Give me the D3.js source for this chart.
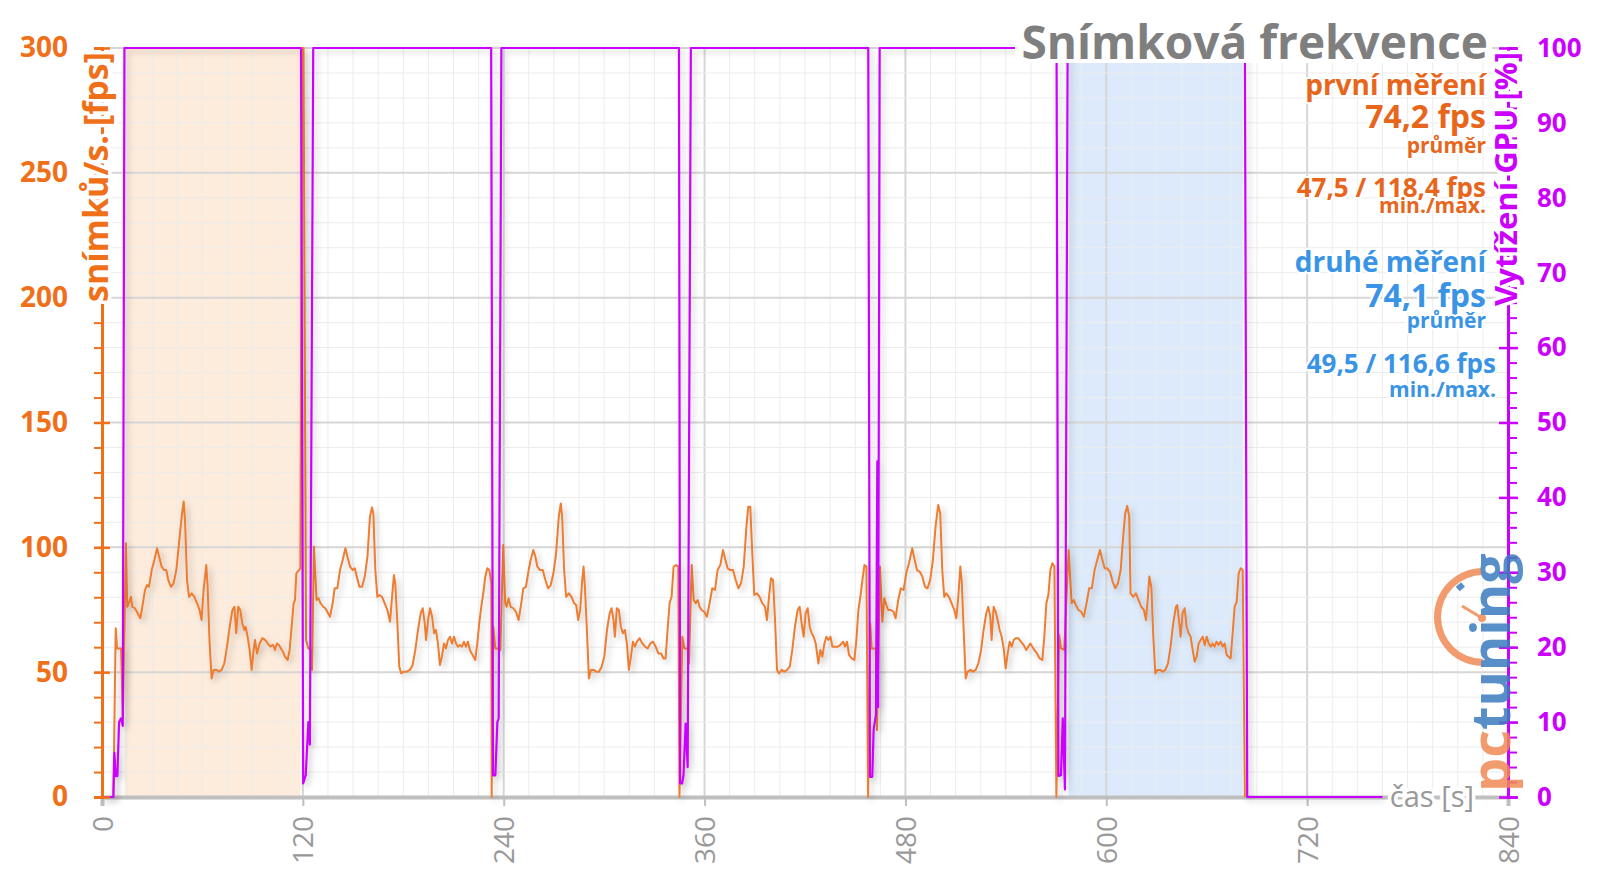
<!DOCTYPE html>
<html><head><meta charset="utf-8">
<script src="https://cdn.jsdelivr.net/npm/d3@7"></script>
<style>
body{margin:0;background:#fff}
svg{display:block}
text{font-family:"Open Sans","Noto Sans",sans-serif}
</style>
</head><body>
<svg id="c" width="1600" height="885"></svg>
<script>
// ---------- data ----------
const xTicks = [0,120,240,360,480,600,720,840];
const fpsTicks = [0,50,100,150,200,250,300];
const gpuTicks = [0,10,20,30,40,50,60,70,80,90,100];
const shadeFirst = [13.5,118.5];
const shadeSecond = [577.5,681.5];

const fpsStart = [[0,0],[6.8,0],[8.2,67.6],[9.0,59.5],[11.4,59.5],[12.5,31.5]];
const fpsRun1 = [[14.3,101.6],[15.1,76.2],[16.3,78.2],[17.3,80.2],[18.1,76.2],[19.7,75.6],[21.3,73.6],[22.9,71.6],[24.1,76.2],[25.7,82.9],[26.9,84.9],[28.1,84.2],[29.7,90.9],[31.3,94.9],[32.9,99.6],[34.1,96.3],[35.6,92.3],[37.2,90.9],[38.4,90.9],[39.6,86.9],[41.2,84.2],[42.8,85.6],[44.4,90.9],[46.0,101.6],[47.6,112.3],[48.8,118.4],[49.6,110.9],[50.8,86.9],[52.0,80.2],[53.6,81.6],[55.2,80.2],[56.8,77.6],[58.3,74.9],[59.5,70.9],[60.7,82.9],[62.3,92.9],[63.1,84.2],[64.3,61.5],[65.5,47.5],[66.7,50.9],[68.3,50.9],[69.9,50.2],[71.5,50.9],[73.1,53.5],[74.7,60.2],[76.3,68.2],[77.9,74.9],[79.1,76.2],[80.2,65.6],[81.4,76.2],[82.6,74.9],[83.8,69.6],[85.0,66.9],[85.8,68.2],[87.0,64.2],[88.2,58.9],[89.4,50.9],[90.6,58.9],[91.4,62.9],[92.6,57.5],[94.2,61.5],[95.8,63.6],[97.4,62.9],[99.0,61.5],[100.6,60.2],[102.2,60.9],[103.3,58.9],[104.5,61.5],[105.7,60.9],[106.9,59.5],[108.1,58.2],[109.3,56.2],[110.9,54.9],[112.1,58.9],[113.3,68.2],[114.5,77.6],[115.3,78.9],[116.1,89.6],[117.7,90.9],[118.5,91.6]];
const fpsTrans1 = [[119.6,300],[120.4,300],[121.9,62.9],[123.3,59.5],[124.7,58.9],[125.5,50.9]];
const fpsRun2 = [[126.6,100.3],[128.2,78.9],[129.4,79.6],[130.6,77.6],[132.2,76.2],[133.4,75.6],[134.6,74.2],[136.2,72.2],[137.8,77.6],[139.0,83.6],[140.6,83.6],[142.2,90.9],[143.8,94.9],[145.4,99.6],[146.6,96.3],[148.2,92.3],[149.8,90.9],[151.0,91.6],[152.2,88.3],[153.8,84.2],[155.4,84.2],[157.0,88.3],[158.6,96.3],[160.1,112.3],[161.3,116.0],[162.1,113.6],[163.3,90.9],[164.5,80.2],[165.7,80.9],[167.3,80.2],[168.9,77.6],[170.5,74.9],[172.1,70.2],[173.3,80.2],[174.4,88.9],[175.2,85.6],[176.4,70.9],[177.6,52.2],[178.8,49.5],[180.0,50.2],[182.0,50.2],[184.0,50.9],[185.6,52.9],[187.2,58.9],[188.8,66.9],[190.4,73.6],[191.6,75.6],[192.8,69.6],[193.6,62.9],[194.8,70.9],[196.0,75.6],[197.2,72.2],[198.4,65.6],[199.5,66.9],[200.7,61.5],[201.9,52.9],[203.1,56.2],[204.3,61.5],[205.5,59.5],[206.7,62.9],[207.9,64.2],[209.1,61.5],[210.3,64.2],[211.5,61.5],[212.7,60.2],[213.9,60.9],[215.1,60.2],[216.2,62.2],[217.4,60.2],[218.6,62.2],[219.8,58.9],[221.4,56.9],[223.0,54.9],[224.2,61.5],[225.4,69.6],[226.6,76.2],[227.8,81.6],[229.0,88.3],[230.2,91.6],[231.4,90.9],[232.6,85.6]];
const fpsTrans2 = [[232.8,0],[233.8,68.2],[235.0,59.5],[236.6,59.5],[238.0,58.9]];
const fpsRun3 = [[239.7,100.9],[240.9,77.6],[241.7,76.2],[242.9,79.6],[244.1,76.2],[245.7,75.6],[247.3,74.2],[248.9,70.9],[250.5,77.6],[251.7,83.6],[253.3,84.2],[254.9,90.9],[256.1,94.9],[257.7,98.9],[258.9,96.3],[260.1,92.3],[261.7,90.9],[263.3,90.9],[264.9,86.9],[266.5,83.6],[268.1,84.9],[269.7,89.6],[271.3,97.6],[272.9,112.3],[274.1,117.6],[274.9,112.3],[276.1,90.9],[277.3,80.2],[278.9,81.6],[280.5,80.2],[282.1,77.6],[283.3,76.9],[284.5,70.9],[285.7,74.9],[286.9,86.9],[287.7,92.3],[288.5,84.2],[289.7,66.9],[290.9,47.5],[292.1,50.9],[293.7,50.9],[295.3,50.2],[296.9,50.2],[298.5,52.2],[300.1,56.2],[301.7,66.9],[303.3,73.6],[304.4,75.6],[305.6,70.9],[306.4,64.2],[307.6,75.6],[308.8,74.9],[310.0,68.2],[311.2,65.6],[312.4,66.9],[313.6,61.5],[314.8,50.9],[316.0,56.2],[317.2,62.2],[318.4,60.2],[319.6,62.2],[321.2,63.6],[322.8,61.5],[324.4,60.2],[326.0,59.5],[327.6,61.5],[329.2,62.2],[330.8,60.2],[332.4,57.5],[334.0,57.5],[335.5,55.5],[336.7,55.5],[337.9,66.9],[339.1,77.6],[340.3,80.2],[341.5,92.3],[343.0,92.9],[344.3,92.3]];
const fpsTrans3 = [[345.0,0],[346.7,64.2],[347.9,59.5],[349.9,59.5],[350.7,53.5]];
const fpsRun4 = [[352.3,92.9],[353.5,78.9],[354.7,77.6],[355.9,78.9],[357.0,76.2],[358.2,74.9],[359.8,74.2],[361.4,72.2],[363.0,77.6],[364.6,83.6],[366.2,82.9],[367.8,90.9],[369.4,92.9],[371.0,98.9],[372.2,95.6],[373.8,91.6],[375.4,90.9],[377.0,90.9],[378.6,86.9],[380.2,83.6],[381.8,85.6],[383.4,92.3],[385.0,108.3],[386.1,116.3],[387.3,116.3],[388.5,97.6],[389.7,80.9],[391.3,81.6],[392.9,80.2],[394.5,77.6],[396.1,76.2],[397.3,70.9],[398.5,80.2],[399.7,87.6],[400.9,86.9],[402.1,70.9],[403.3,50.9],[404.5,49.5],[406.1,50.9],[407.7,50.2],[409.3,50.9],[410.9,52.2],[412.4,58.9],[414.0,68.2],[415.6,74.9],[416.8,76.2],[418.0,69.6],[419.2,64.2],[420.4,73.6],[421.6,75.6],[422.8,68.2],[424.0,65.6],[425.2,64.2],[426.4,61.5],[428.0,53.5],[429.2,58.9],[430.4,56.2],[431.6,61.5],[432.8,64.2],[434.0,62.9],[435.2,64.2],[436.4,60.2],[438.0,60.2],[439.6,60.2],[441.2,60.9],[442.8,62.2],[443.9,60.2],[445.1,62.2],[446.3,56.9],[447.9,55.5],[449.5,54.9],[450.7,62.9],[451.9,74.9],[453.1,80.2],[454.3,86.9],[455.5,92.9],[456.7,92.3]];
const fpsTrans4 = [[457.7,0],[459.0,69.6],[459.8,59.5],[462.3,59.5],[463.0,26.8]];
const fpsRun5 = [[464.8,92.3],[466.2,70.2],[467.4,79.6],[468.6,76.9],[469.7,74.9],[471.3,74.9],[472.9,74.2],[474.1,71.6],[475.7,78.9],[477.3,83.6],[478.9,82.9],[480.5,89.6],[482.1,93.6],[484.1,99.6],[485.3,95.6],[486.9,90.9],[488.5,90.3],[490.1,88.3],[491.7,84.2],[493.2,83.6],[494.8,86.9],[496.4,94.9],[498.0,108.3],[499.6,117.0],[500.8,113.6],[502.0,90.9],[503.2,80.2],[504.4,81.6],[506.0,80.2],[507.6,77.6],[509.2,74.9],[510.4,71.6],[511.6,80.2],[512.8,92.3],[513.6,86.9],[514.8,66.9],[516.0,47.5],[517.2,50.2],[518.8,50.9],[520.4,50.2],[522.0,50.9],[523.6,53.5],[525.2,58.9],[526.7,66.9],[528.3,73.6],[529.5,76.2],[530.7,72.2],[531.5,62.9],[532.7,76.2],[533.9,74.2],[535.1,70.9],[536.3,66.9],[537.5,64.2],[538.7,59.5],[539.9,51.5],[541.1,57.5],[542.3,62.2],[543.5,60.2],[544.7,62.9],[545.9,63.6],[547.4,63.6],[549.0,62.2],[550.6,60.9],[552.2,58.9],[553.4,60.2],[554.6,61.5],[555.8,60.2],[557.0,58.9],[558.6,57.5],[560.2,55.5],[561.8,54.9],[563.0,64.2],[564.2,77.6],[565.4,80.9],[566.6,90.9],[567.8,93.6],[569.0,92.3]];
const fpsTrans5 = [[570.2,0],[571.8,65.0],[572.9,59.5],[574.9,58.9]];
const fpsRun6 = [[577.5,98.9],[579.3,77.6],[580.6,78.9],[581.8,76.9],[583.4,74.9],[585.0,74.2],[586.6,72.2],[588.2,77.6],[589.8,83.6],[591.4,83.6],[593.0,90.9],[594.6,94.9],[596.2,98.9],[597.4,95.6],[599.0,91.6],[600.6,91.6],[602.2,90.3],[603.8,86.2],[605.4,83.6],[607.0,85.6],[608.6,90.9],[610.1,104.3],[611.3,113.6],[612.5,116.6],[613.7,112.3],[614.5,81.6],[616.1,80.2],[617.7,81.6],[619.3,78.9],[620.9,76.2],[622.5,74.9],[623.7,70.9],[624.9,80.2],[625.7,88.3],[626.9,84.2],[628.1,64.2],[629.3,49.5],[630.5,50.9],[632.1,50.9],[633.7,50.2],[635.3,50.9],[636.9,53.5],[638.4,60.2],[640.0,69.6],[641.6,76.2],[642.4,76.9],[643.6,69.6],[644.4,64.2],[645.6,73.6],[646.8,75.6],[648.0,68.2],[649.2,65.6],[650.4,64.2],[651.6,58.9],[652.8,54.2],[654.0,56.2],[655.2,61.5],[656.4,62.9],[657.6,64.2],[658.8,60.9],[660.0,64.2],[661.2,61.5],[662.4,60.2],[663.5,61.5],[664.7,60.2],[665.9,62.2],[667.1,60.9],[668.3,62.2],[669.5,60.2],[670.7,61.5],[671.9,56.9],[673.1,56.2],[674.3,55.5],[675.5,65.6],[676.7,76.2],[677.9,78.2],[679.1,89.6],[680.3,91.6],[681.5,90.9]];
const fpsEnd = [[682.8,0]];

const gpuLoad = [[0,0],[6.8,0],[7.4,5.9],[8.2,2.8],[9.2,2.8],[10.2,10],[11.4,10.5],[12.4,9.5],[13.4,100],
  [118.9,100],[120.2,1.8],[121.7,2.9],[123.3,10],[124.2,7],[126.2,100],
  [232.5,100],[233.6,2.9],[235.0,2.9],[236.2,10],[237.0,10.5],[238.6,100],
  [344.7,100],[345.4,1.8],[346.6,1.8],[347.4,2.9],[348.7,9.8],[349.9,4],[351.8,100],
  [457.8,100],[458.8,2.7],[460.2,2.7],[461.0,9],[462.4,11],[463.2,44.8],[463.7,12],[464.6,100],
  [570.3,100],[571.4,2.8],[572.9,2.9],[574.0,10.5],[575.3,1.0],[576.9,100],
  [682.8,100],[684.2,0],[765,0]];

const titleText = "Snímková frekvence";
const leftTitle = "snímků/s. [fps]";
const rightTitle = "Vytížení GPU [%]";
const xTitle = "čas [s]";
const legendFirst = ["první měření","74,2 fps","průměr","47,5 / 118,4 fps","min./max."];
const legendSecond = ["druhé měření","74,1 fps","průměr","49,5 / 116,6 fps","min./max."];

// ---------- drawing ----------
const C = {orange:"#ed7d31", axisOrange:"#f0701a", magenta:"#cc00ff", gray:"#999999",
           legOrange:"#e8661c", legBlue:"#3a94e6"};
const svg = d3.select("#c");
const X0=102, X1=1508, Y0=797, Y1=48;
const x = d3.scaleLinear().domain([0,840]).range([X0,X1]);
const yF = d3.scaleLinear().domain([0,300]).range([Y0,Y1]);
const yG = d3.scaleLinear().domain([0,100]).range([Y0,Y1]);

const defs = svg.append("defs");
const f = defs.append("filter").attr("id","sh").attr("x","-20%").attr("y","-20%").attr("width","140%").attr("height","140%");
f.append("feDropShadow").attr("dx",3).attr("dy",3).attr("stdDeviation",3).attr("flood-color","#000").attr("flood-opacity",0.22);

// shaded regions
svg.append("rect").attr("x",x(shadeFirst[0])).attr("y",Y1).attr("width",x(shadeFirst[1])-x(shadeFirst[0])).attr("height",Y0-Y1).attr("fill","#fdebdb");
svg.append("rect").attr("x",x(shadeSecond[0])).attr("y",Y1).attr("width",x(shadeSecond[1])-x(shadeSecond[0])).attr("height",Y0-Y1).attr("fill","#dceafb");

// grid
const grid = svg.append("g");
d3.range(15,841,15).forEach(t=>{
  const major = t%120===0;
  grid.append("line").attr("x1",x(t)).attr("x2",x(t)).attr("y1",Y1).attr("y2",Y0)
    .attr("stroke",major?"#d6d6d6":"#ececec").attr("stroke-width",major?2:1);
});
d3.range(10,301,10).forEach(v=>{
  const major = v%50===0;
  grid.append("line").attr("x1",X0).attr("x2",X1).attr("y1",yF(v)).attr("y2",yF(v))
    .attr("stroke",major?"#d6d6d6":"#ececec").attr("stroke-width",major?2:1);
});

// x axis
const xa = svg.append("g").attr("transform",`translate(0,${Y0})`)
  .call(d3.axisBottom(x).tickValues(xTicks).tickSize(9).tickFormat(d3.format("d")));
xa.select(".domain").attr("stroke","#bfbfbf").attr("stroke-width",4);
xa.selectAll(".tick line").attr("stroke","#bfbfbf").attr("stroke-width",2);
xa.selectAll(".tick text").attr("transform","rotate(-90)").attr("x",-19).attr("y",0).attr("dy","0.36em")
  .attr("text-anchor","end").attr("fill",C.gray).attr("font-size",28).attr("font-family","Open Sans");

// lines
const line = d3.line().x(d=>x(d[0]));
const fpsAll = [].concat(fpsStart,fpsRun1,fpsTrans1,fpsRun2,fpsTrans2,fpsRun3,fpsTrans3,fpsRun4,fpsTrans4,fpsRun5,fpsTrans5,fpsRun6,fpsEnd);
svg.append("path").datum(fpsAll).attr("d",line.y(d=>yF(d[1])))
  .attr("fill","none").attr("stroke",C.orange).attr("stroke-width",2).attr("stroke-linejoin","round").attr("filter","url(#sh)");
svg.append("path").datum(gpuLoad).attr("d",d3.line().x(d=>x(d[0])).y(d=>yG(d[1])))
  .attr("fill","none").attr("stroke",C.magenta).attr("stroke-width",2.2).attr("stroke-linejoin","round").attr("filter","url(#sh)");

// left axis
const la = svg.append("g").attr("transform",`translate(${X0},0)`);
la.call(d3.axisLeft(yF).tickValues(d3.range(0,301,10)).tickSize(8).tickFormat(""));
la.select(".domain").attr("stroke",C.axisOrange).attr("stroke-width",3);
la.selectAll(".tick line").attr("stroke",C.axisOrange).attr("stroke-width",2);
const la2 = svg.append("g").attr("transform",`translate(${X0+8},0)`)
  .call(d3.axisLeft(yF).tickValues(fpsTicks).tickSize(16).tickFormat(""));
la2.select(".domain").remove();
la2.selectAll(".tick line").attr("stroke",C.axisOrange).attr("stroke-width",2.5);
const la3 = svg.append("g").attr("transform",`translate(${X0},0)`)
  .call(d3.axisLeft(yF).tickValues(fpsTicks).tickSize(0).tickPadding(34));
la3.select(".domain").remove();
la3.selectAll(".tick text").attr("fill",C.axisOrange).attr("font-size",28).attr("font-weight","bold").attr("font-family","Open Sans");

// right axis
const ra = svg.append("g").attr("transform",`translate(${X1},0)`);
ra.call(d3.axisRight(yG).tickValues(d3.range(0,101,2)).tickSize(9).tickFormat(""));
ra.select(".domain").attr("stroke",C.magenta).attr("stroke-width",3);
ra.selectAll(".tick line").attr("stroke",C.magenta).attr("stroke-width",2);
const ra2 = svg.append("g").attr("transform",`translate(${X1-9},0)`)
  .call(d3.axisRight(yG).tickValues(gpuTicks).tickSize(19).tickFormat(""));
ra2.select(".domain").remove();
ra2.selectAll(".tick line").attr("stroke",C.magenta).attr("stroke-width",2.5);
const ra3 = svg.append("g").attr("transform",`translate(${X1},0)`)
  .call(d3.axisRight(yG).tickValues(gpuTicks).tickSize(0).tickPadding(29));
ra3.select(".domain").remove();
ra3.selectAll(".tick text").attr("fill",C.magenta).attr("font-size",26).attr("font-weight","bold").attr("font-family","Open Sans");

function halo(sel,w){ return sel.attr("stroke","#fff").attr("stroke-width",w).attr("stroke-linejoin","round").attr("paint-order","stroke"); }

// axis titles
halo(svg.append("text").attr("transform",`translate(98,52) rotate(-90)`).attr("dy","0.3em")
  .attr("text-anchor","end").attr("font-size",34).attr("font-weight","bold").attr("fill",C.axisOrange).text(leftTitle),7);
halo(svg.append("text").attr("transform",`translate(1508,52) rotate(-90)`).attr("dy","0.3em")
  .attr("text-anchor","end").attr("font-size",31).attr("font-weight","bold").attr("fill",C.magenta).text(rightTitle),7);
halo(svg.append("text").attr("x",1474).attr("y",Y0).attr("dy","0.33em").attr("text-anchor","end")
  .attr("font-size",29).attr("fill",C.gray).text(xTitle),7);

// title
svg.append("rect").attr("x",1015).attr("y",0).attr("width",477).attr("height",63).attr("fill","#fff");
svg.append("text").attr("x",1488).attr("y",59).attr("text-anchor","end").attr("font-size",46)
  .attr("font-weight","bold").attr("fill","#7f7f7f").text(titleText);

// legend
const legSizes=[28,32,21,26,21];
const legFirstY=[95,128,153,197,213];
const legSecondY=[272,307,328,373,397];
const lg = svg.append("g");
legendFirst.forEach((t,i)=>{
  halo(lg.append("text").attr("x",1486).attr("y",legFirstY[i]).attr("text-anchor","end").attr("font-size",legSizes[i])
    .attr("font-weight","bold").attr("fill",C.legOrange).text(t),4);
});
legendSecond.forEach((t,i)=>{
  halo(lg.append("text").attr("x",i>=3?1496:1486).attr("y",legSecondY[i]).attr("text-anchor","end").attr("font-size",legSizes[i])
    .attr("font-weight","bold").attr("fill",C.legBlue).text(t),4);
});

// logo
const logo = svg.append("g").attr("opacity",0.85);
logo.append("path").attr("transform","translate(1483,617)")
  .attr("d",d3.arc().innerRadius(42).outerRadius(49).startAngle(Math.PI).endAngle(2*Math.PI)()).attr("fill","#f08a55");
logo.append("rect").attr("x",1457).attr("y",584).attr("width",7).attr("height",6).attr("fill","#3d7cc0")
  .attr("transform","rotate(-40,1460,587)");
logo.append("line").attr("x1",1482).attr("y1",618).attr("x2",1462).attr("y2",606).attr("stroke","#f08a55").attr("stroke-width",3);
logo.append("circle").attr("cx",1482).attr("cy",618).attr("r",4).attr("fill","#f08a55");
const lt = logo.append("text").attr("transform","translate(1510,792) rotate(-90)").attr("font-size",54).attr("font-weight","bold");
lt.append("tspan").attr("fill","#f08a55").text("pc");
lt.append("tspan").attr("fill","#3d7cc0").text("tuning");
</script>
</body></html>
